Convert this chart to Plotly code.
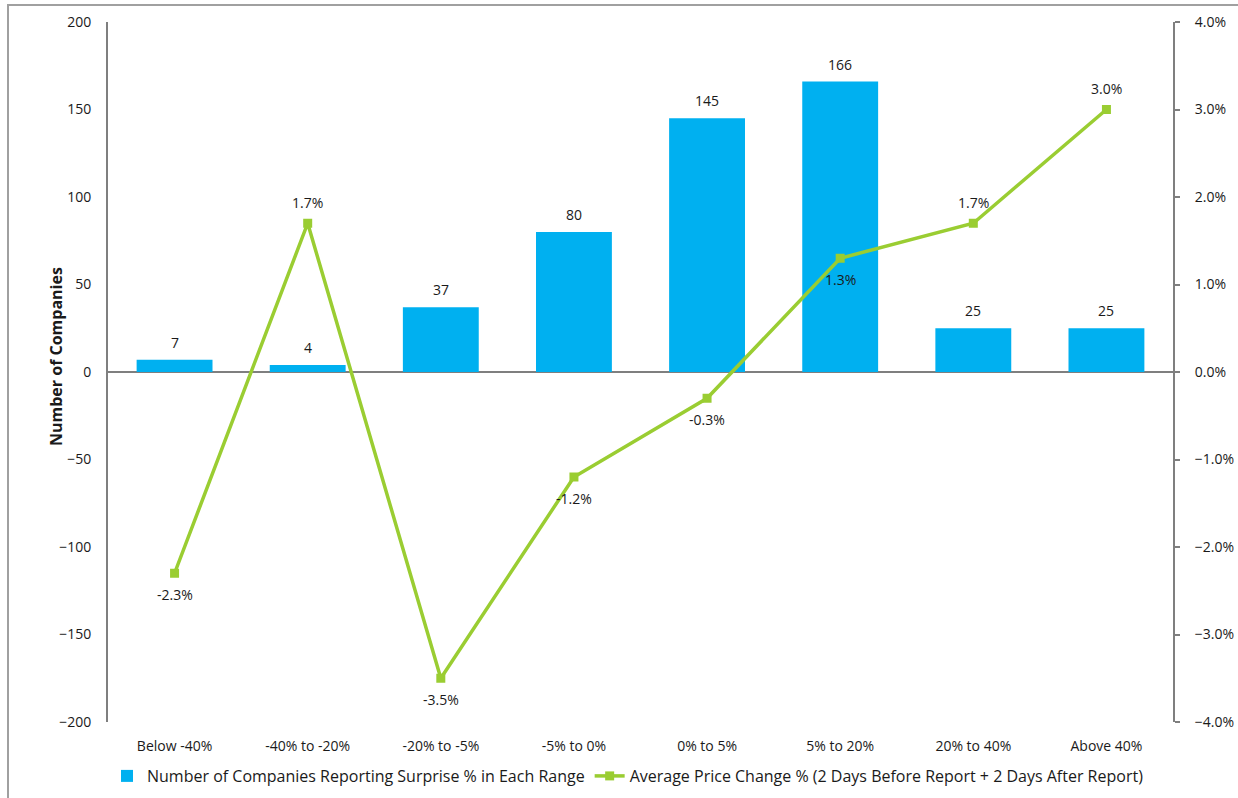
import plotly.graph_objects as go

# Earnings-surprise buckets
categories = ["Below -40%", "-40% to -20%", "-20% to -5%", "-5% to 0%",
              "0% to 5%", "5% to 20%", "20% to 40%", "Above 40%"]
company_counts = [7, 4, 37, 80, 145, 166, 25, 25]
avg_price_change = [-2.3, 1.7, -3.5, -1.2, -0.3, 1.3, 1.7, 3.0]  # percent
price_label_side = [-1, 1, -1, -1, -1, -1, 1, 1]  # 1 = above the point, -1 = below

left_ticks = [-200, -150, -100, -50, 0, 50, 100, 150, 200]
right_ticks = [-4, -3, -2, -1, 0, 1, 2, 3, 4]

W, H = 1238, 798
ML, MR, MT, MB = 108, 65, 22, 76
PW, PH = W - ML - MR, H - MT - MB

def px_x(px):
    return (px - ML) / PW

def px_y(py):
    return (H - MB - py) / PH

FONT = "'Open Sans', Lato, sans-serif"
TXT = "#1a1a1a"
AXIS = "#7f7f7f"
BLUE = "#00B0F0"
GREEN = "#9ACD32"
FS = 14

fig = go.Figure()

fig.add_trace(go.Bar(
    x=categories, y=company_counts,
    name="Number of Companies Reporting Surprise % in Each Range",
    marker=dict(color=BLUE, line=dict(width=0)),
    width=0.57,
    yaxis="y",
))

price_frac = [v / 100 for v in avg_price_change]
fig.add_trace(go.Scatter(
    x=categories, y=price_frac,
    name="Average Price Change % (2 Days Before Report + 2 Days After Report)",
    mode="lines+markers",
    line=dict(color=GREEN, width=3.5),
    marker=dict(symbol="square", size=9, color=GREEN),
    cliponaxis=False,
    yaxis="y2",
))

# value labels above each bar
for cat, v in zip(categories, company_counts):
    fig.add_annotation(
        x=cat, y=v, xref="x", yref="y", text=str(v),
        showarrow=False, yanchor="bottom", yshift=6,
        font=dict(family=FONT, size=FS, color=TXT),
    )

# percentage labels next to each line point
for cat, v, f, side in zip(categories, avg_price_change, price_frac, price_label_side):
    fig.add_annotation(
        x=cat, y=f, xref="x", yref="y2", text=f"{v:.1f}%",
        showarrow=False, yanchor="middle", yshift=21 * side,
        font=dict(family=FONT, size=FS, color=TXT),
    )

fig.update_layout(
    width=W, height=H,
    margin=dict(l=ML, r=MR, t=MT, b=MB, autoexpand=False),
    paper_bgcolor="white", plot_bgcolor="white",
    font=dict(family=FONT, size=FS, color=TXT),
    xaxis=dict(
        type="category",
        showline=False, showgrid=False, zeroline=False,
        ticks="", ticklabelstandoff=14,
        tickfont=dict(family=FONT, size=FS, color=TXT),
    ),
    yaxis=dict(
        range=[-200, 200], tickvals=left_ticks,
        showgrid=False, zeroline=True, zerolinecolor=AXIS, zerolinewidth=2,
        showline=True, linecolor=AXIS, linewidth=2,
        ticks="", ticklabelstandoff=12,
        tickfont=dict(family=FONT, size=FS, color=TXT),
    ),
    yaxis2=dict(
        overlaying="y", side="right",
        range=[-0.04, 0.04], tickvals=[t / 100 for t in right_ticks],
        tickformat=".1%",
        showgrid=False, zeroline=False,
        showline=True, linecolor=AXIS, linewidth=2,
        ticks="outside", ticklen=5, tickwidth=2, tickcolor=AXIS,
        ticklabelstandoff=12,
        tickfont=dict(family=FONT, size=FS, color=TXT),
    ),
    legend=dict(
        orientation="h", x=px_x(628), xanchor="center",
        y=px_y(776), yanchor="middle",
        font=dict(family=FONT, size=16, color=TXT),
        bgcolor="rgba(0,0,0,0)",
        itemwidth=30,
    ),
    showlegend=True,
)

fig.add_annotation(
    text="<b>Number of Companies</b>", textangle=-90,
    xref="paper", yref="paper", x=px_x(43), y=px_y(357), yanchor="middle",
    showarrow=False, font=dict(family=FONT, size=16, color=TXT),
)

# outer chart frame
fig.add_shape(
    type="rect", xref="paper", yref="paper",
    x0=px_x(8), x1=px_x(1260), y0=px_y(820), y1=px_y(5),
    line=dict(color="#a0a0a0", width=2), fillcolor="rgba(0,0,0,0)", layer="below",
)

fig.write_html("out.html")
